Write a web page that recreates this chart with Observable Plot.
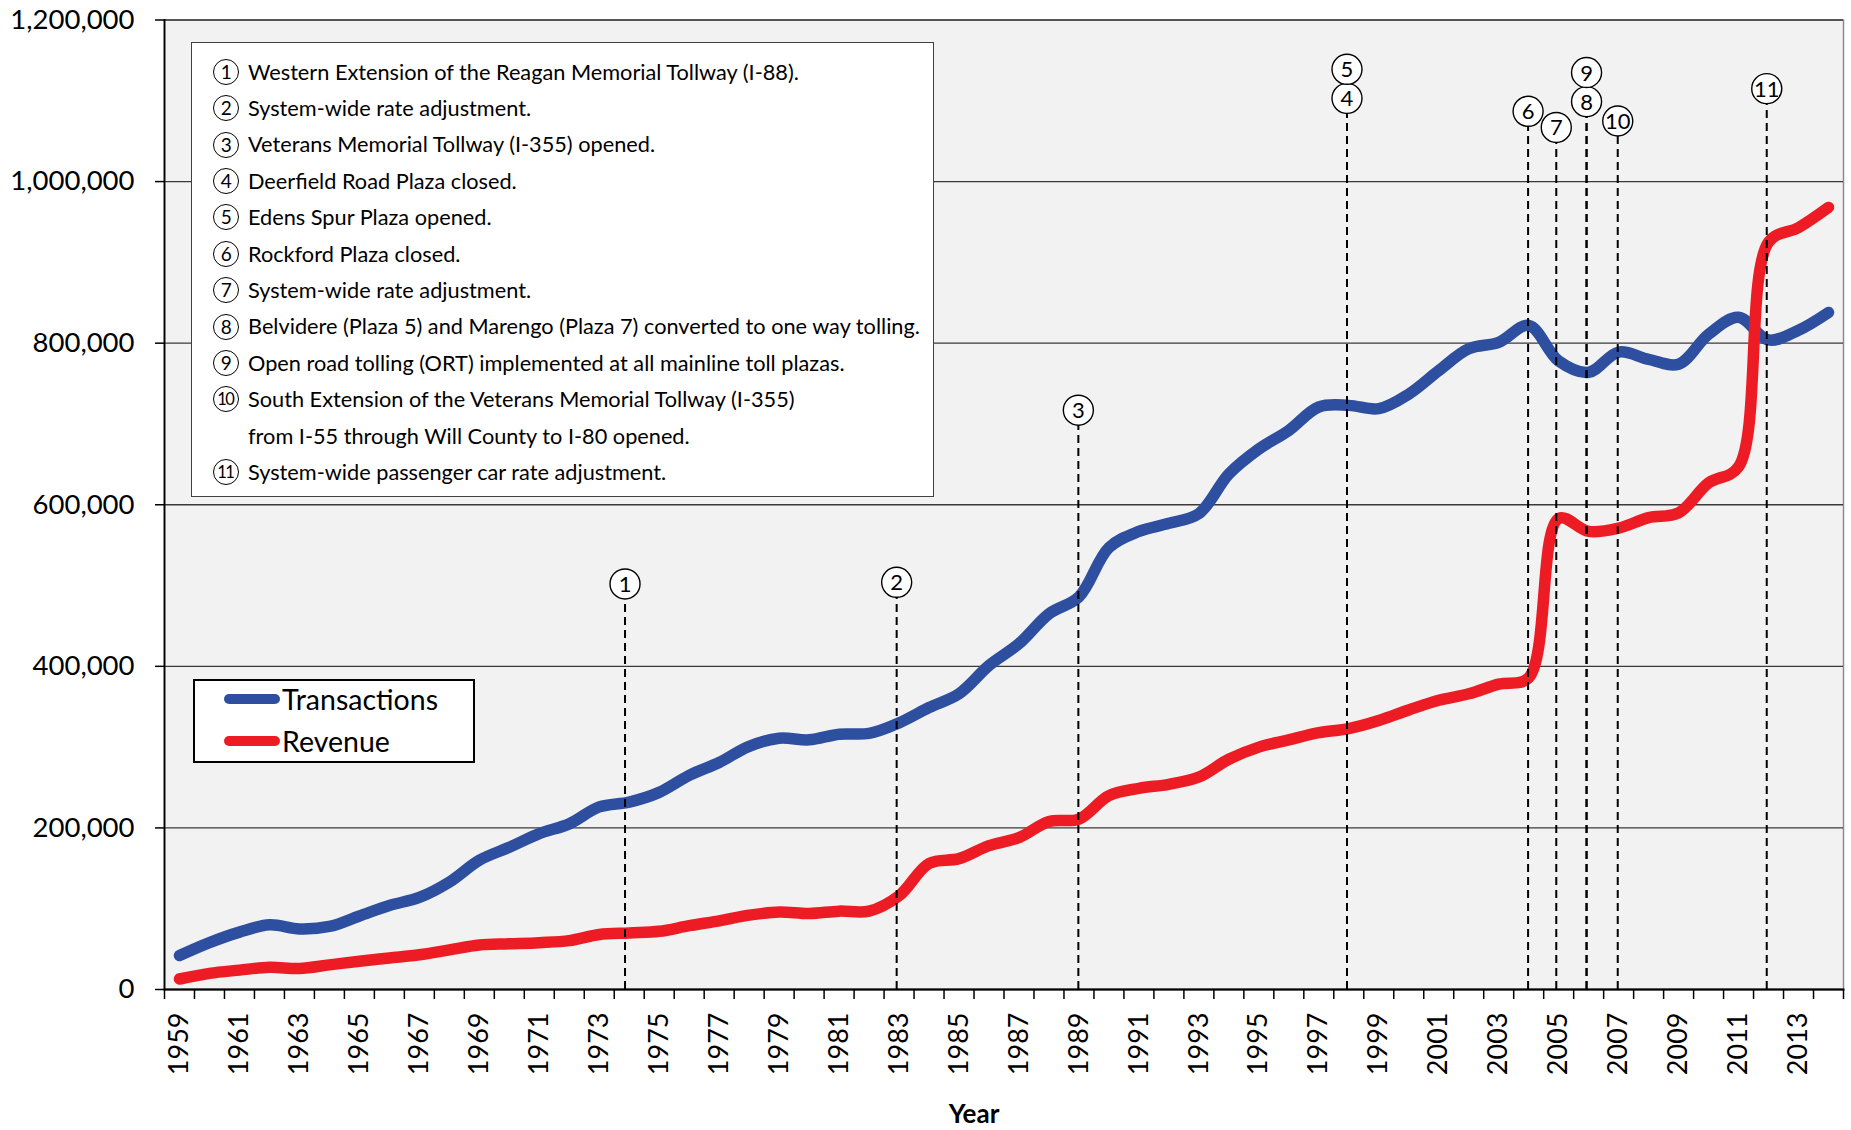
<!DOCTYPE html>
<html>
<head>
<meta charset="utf-8">
<script src="https://cdn.jsdelivr.net/npm/d3@7"></script>
<script src="https://cdn.jsdelivr.net/npm/@observablehq/plot@0.6"></script>
<style>
  html, body { margin: 0; padding: 0; background: #fff; }
  #wrap { position: relative; width: 1851px; height: 1130px; font-family: Lato, "Open Sans", sans-serif; color: #000; }
  #wrap svg { position: absolute; left: 0; top: 0; }
  .notes { position: absolute; left: 191px; top: 42px; width: 741px; height: 453px; background: #fff; border: 1.3px solid #404040; }
  .note { position: absolute; left: 0; height: 36.4px; line-height: 36.4px; white-space: nowrap; }
  .note .c { position: absolute; left: 21px; top: 5.2px; width: 24px; height: 24px; border: 1.4px solid #000; border-radius: 50%;
             font-family: Lato, sans-serif; font-size: 19px; line-height: 24px; text-align: center; letter-spacing: -0.5px; box-sizing: content-box; }
  .note .c.two { font-size: 16.5px; letter-spacing: -1.5px; text-indent: -1.5px; }
  .note .t { position: absolute; left: 56px; top: 0; font-family: "Liberation Sans Narrow", Lato, sans-serif; font-size: 22.5px; }
  .legend { position: absolute; left: 193px; top: 679px; width: 278px; height: 80px; background: #fff; border: 2px solid #000; }
  .legend .row { position: absolute; left: 0; height: 36px; }
  .legend .sw { position: absolute; left: 29px; width: 56px; height: 10px; border-radius: 5px; }
  .legend .lab { position: absolute; left: 87px; font-size: 28.5px; line-height: 36px; top: -18px; white-space: nowrap; }
  .xtitle { position: absolute; left: 974px; top: 1113px; transform: translate(-50%, -50%); font-weight: bold; font-size: 26px; font-family: Lato, sans-serif; }
</style>
</head>
<body>
<div id="wrap"></div>
<script>
// ---------------- data ----------------
const years = d3.range(1959, 2015); // 1959 … 2014

const transactions = [
  42000, 58000, 71000, 80000, 75000, 78000, 91000, 104000, 114000, 133000,
  160000, 176000, 193000, 205000, 226000, 232000, 244000, 265000, 281000, 301000,
  311000, 309000, 316000, 317000, 330000, 349000, 366000, 401000, 428000, 465000,
  486000, 547000, 567000, 577000, 589000, 638000, 669000, 692000, 721000, 723000,
  719000, 737000, 766000, 793000, 801000, 822000, 778000, 764000, 789000, 780000,
  774000, 811000, 832000, 804000, 816000, 838000
];

const revenue = [
  13000, 20000, 24000, 27500, 26000, 30500, 35000, 39000, 43000, 49000,
  55000, 56500, 58000, 60500, 68000, 70000, 72000, 79000, 85000, 92000,
  96000, 94000, 97000, 97000, 116000, 156000, 162000, 178000, 188000, 208000,
  211000, 240000, 249000, 254000, 263000, 285000, 300000, 309000, 318000, 323000,
  333000, 346000, 358000, 366000, 378000, 386000, 583000, 567000, 571000, 584000,
  590000, 627000, 647000, 925000, 943000, 968000
];

const seriesNames = ["Transactions", "Revenue"];
const seriesColors = ["#2e4f9f", "#ed1c24"];

const yTicks = [0, 200000, 400000, 600000, 800000, 1000000, 1200000];
const labelYears = d3.range(1959, 2015, 2); // every other year labelled

// events (circled numbers on the chart)
const eventNums   = ["1", "2", "3", "4", "5", "6", "7", "8", "9", "10", "11"];
const eventYear   = [1973.86, 1982.92, 1988.98, 1997.94, 1997.94, 2003.98, 2004.92, 2005.93, 2005.93, 2006.97, 2011.94];
const eventLabelY = [502000, 504000, 717000, 1103000, 1139000, 1087000, 1067000, 1099000, 1135000, 1075000, 1115000];

const noteTexts = [
  "Western Extension of the Reagan Memorial Tollway (I-88).",
  "System-wide rate adjustment.",
  "Veterans Memorial Tollway (I-355) opened.",
  "Deerfield Road Plaza closed.",
  "Edens Spur Plaza opened.",
  "Rockford Plaza closed.",
  "System-wide rate adjustment.",
  "Belvidere (Plaza 5) and Marengo (Plaza 7) converted to one way tolling.",
  "Open road tolling (ORT) implemented at all mainline toll plazas.",
  "South Extension of the Veterans Memorial Tollway (I-355)",
  "from I-55 through Will County to I-80 opened.",
  "System-wide passenger car rate adjustment."
];
const noteNums = ["1", "2", "3", "4", "5", "6", "7", "8", "9", "10", "", "11"];

// ---------------- tables ----------------
const rows = [];
years.forEach((yr, i) => rows.push({year: yr, value: transactions[i], series: "Transactions"}));
years.forEach((yr, i) => rows.push({year: yr, value: revenue[i], series: "Revenue"}));

const events = eventNums.map((n, i) => ({num: n, x: eventYear[i], y: eventLabelY[i]}));
const yearEdges = years.map(y => y - 0.5).concat([years[years.length - 1] + 0.5]);

// ---------------- chart ----------------
const chart = Plot.plot({
  width: 1851,
  height: 1130,
  marginLeft: 164,
  marginRight: 8,
  marginTop: 19.5,
  marginBottom: 141,
  x: {domain: [yearEdges[0], yearEdges[yearEdges.length - 1]]},
  y: {domain: [0, 1200000]},
  color: {domain: seriesNames, range: seriesColors},
  style: {fontFamily: "Lato, 'Open Sans', sans-serif", background: "transparent", overflow: "visible", color: "#000"},
  marks: [
    Plot.frame({fill: "#f2f2f2", stroke: "#8c8c8c", strokeWidth: 1.5}),
    Plot.ruleY(yTicks, {stroke: "#3a3a3a", strokeWidth: 1.3}),
    Plot.axisY({ticks: yTicks, tickSize: 9, tickPadding: 21, tickFormat: d3.format(","), fontSize: 27.5, label: null, strokeWidth: 1.5}),
    Plot.axisX({ticks: yearEdges, tickSize: 10, tickFormat: () => "", label: null, strokeWidth: 1.5}),
    Plot.axisX({ticks: labelYears, tickSize: 0, tickPadding: 23, tickRotate: -90, tickFormat: d => String(d), fontSize: 27, label: null}),
    Plot.frame({anchor: "left", stroke: "#000", strokeWidth: 1.8}),
    Plot.frame({anchor: "bottom", stroke: "#000", strokeWidth: 2}),
    Plot.line(rows, {x: "year", y: "value", z: "series", stroke: "series", strokeWidth: 11.5,
      curve: "catmull-rom", strokeLinecap: "round", strokeLinejoin: "round"}),
    Plot.ruleX(events, {x: "x", y1: 0, y2: "y", stroke: "#000", strokeWidth: 2, strokeDasharray: "8,5"}),
    Plot.dot(events, {x: "x", y: "y", r: 15, fill: "#fff", stroke: "#000", strokeWidth: 1.4}),
    Plot.text(events, {x: "x", y: "y", text: "num", fontSize: 22, fill: "#000", dy: 1})
  ]
});

const wrap = document.getElementById("wrap");
wrap.appendChild(chart);

// notes box
const notes = document.createElement("div");
notes.className = "notes";
noteTexts.forEach((txt, i) => {
  const row = document.createElement("div");
  row.className = "note";
  row.style.top = (10.6 + 36.4 * i) + "px";
  if (noteNums[i]) {
    const c = document.createElement("div");
    c.className = "c" + (noteNums[i].length > 1 ? " two" : "");
    c.textContent = noteNums[i];
    row.appendChild(c);
  }
  const t = document.createElement("span");
  t.className = "t";
  t.textContent = txt;
  row.appendChild(t);
  notes.appendChild(row);
});
wrap.appendChild(notes);

// fit the note font so the longest line spans the same width as in the reference
const spans = notes.querySelectorAll(".t");
const longest = spans[7];
const w = longest.getBoundingClientRect().width;
if (w > 0) {
  const fs = 22.5 * 672 / w;
  spans.forEach(s => s.style.fontSize = fs + "px");
}

// legend
const legend = document.createElement("div");
legend.className = "legend";
seriesNames.forEach((name, i) => {
  const row = document.createElement("div");
  row.className = "row";
  row.style.top = (18.3 + 41.4 * i) + "px";
  const sw = document.createElement("div");
  sw.className = "sw";
  sw.style.background = seriesColors[i];
  sw.style.top = "-5px";
  const lab = document.createElement("div");
  lab.className = "lab";
  lab.textContent = name;
  row.appendChild(sw);
  row.appendChild(lab);
  legend.appendChild(row);
});
wrap.appendChild(legend);

// x-axis title
const xt = document.createElement("div");
xt.className = "xtitle";
xt.textContent = "Year";
wrap.appendChild(xt);
</script>
</body>
</html>
